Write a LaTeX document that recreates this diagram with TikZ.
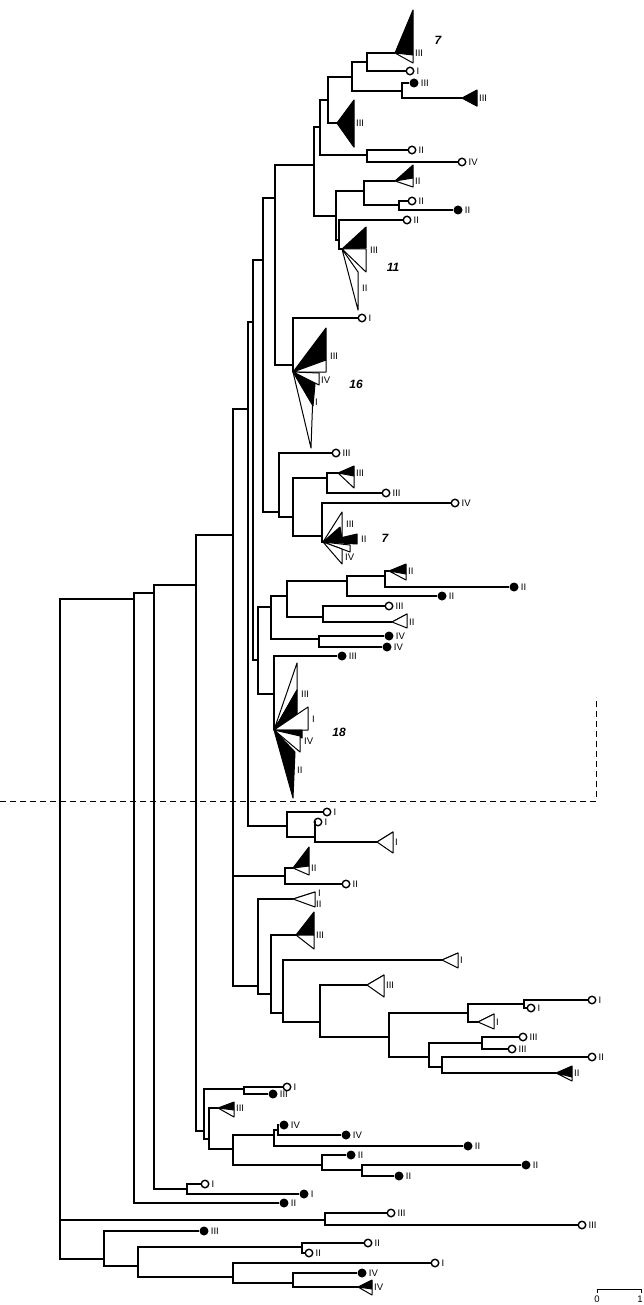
\documentclass[tikz,border=0pt]{standalone}
\usepackage{fontspec}
\setmainfont{Liberation Sans}
\tikzset{branch/.style={line width=1.6pt},
  tri/.style={draw,fill=black,line width=1pt,line join=round},
  opn/.style={circle,draw,fill=white,line width=1.4pt,inner sep=0pt,minimum size=7.5pt},
  fld/.style={circle,fill=black,inner sep=0pt,minimum size=9pt},
  lbl/.style={font=\fontsize{9.5}{9.5}\selectfont,inner sep=1pt},
  cnum/.style={font=\fontsize{12}{12}\selectfont\bfseries\itshape}}
% open and filled tips
\newcommand{\oleaf}[4]{\node[opn,label={[lbl]right:#4}] (#1) at (#2,#3) {};}
\newcommand{\fleaf}[4]{\node[fld,label={[lbl]right:#4}] (#1) at (#2,#3) {};}
% collapsed clade: name, apex x, apex y, right x, top, middle, bottom, label
\newcommand{\clade}[8]{%
  \coordinate (#1) at (#2,#3);
  \filldraw[tri] (#1) -- (#4,#5) -- (#4,#6) -- cycle;
  \filldraw[tri,fill=white] (#1) -- (#4,#6) -- (#4,#7) -- cycle;
  \node[lbl,anchor=west] (#1l) at (#4+1,#3) {#8};}

\begin{document}
\begin{tikzpicture}[x=1pt,y=-1pt,label distance=1pt]
  \useasboundingbox (0,0) rectangle (644,1305);
  % collapsed clades
  \clade{t1}{395}{53}{413}{10}{55}{63}{III}
  \clade{t2}{462}{98}{477}{90}{106}{106}{III}
  \clade{t3}{337}{123}{354}{100}{147}{147}{III}
  \clade{t4}{395}{181}{413}{165}{178}{187}{II}
  \clade{t5}{338}{473}{354}{466}{476}{488}{III}
  \clade{t6}{389}{571}{406}{564}{574}{580}{II}
  \clade{t7}{392}{622}{407}{614}{614}{628}{II}
  \clade{t8}{377}{842}{393}{832}{832}{853}{I}
  \clade{t9}{293}{868}{309}{847}{866}{875}{II}
  \clade{t10}{293}{899}{315}{892}{892}{907}{}
  \node[lbl,anchor=west] (t10a) at (317,893) {I};
  \node[lbl,anchor=west] (t10b) at (315,904) {II};
  \clade{t11}{296}{935}{314}{912}{935}{949}{III}
  \clade{t12}{442}{960}{458}{953}{953}{968}{I}
  \clade{t13}{367}{985}{384}{975}{975}{997}{III}
  \clade{t14}{478}{1022}{494}{1014}{1014}{1029}{I}
  \clade{t15}{556}{1073}{572}{1066}{1077}{1081}{II}
  \clade{t16}{218}{1108}{234}{1102}{1110}{1117}{III}
  \clade{t17}{358}{1287}{372}{1280}{1289}{1295}{IV}

  % fans
  \coordinate (a11) at (342,249);
  \filldraw[tri] (a11) -- (366,227) -- (366,248) -- cycle;
  \filldraw[tri,fill=white] (a11) -- (366,249) -- (366,272) -- cycle;
  \filldraw[tri,fill=white] (a11) -- (358,272) -- (358,310) -- cycle;
  \node[lbl,anchor=west] (a11a) at (369,250) {III};
  \node[lbl,anchor=west] (a11b) at (361,288) {II};
  \node[cnum] (num11) at (393,267) {11};

  \coordinate (a16) at (293,372);
  \filldraw[tri] (a16) -- (326,328) -- (326,360) -- cycle;
  \filldraw[tri,fill=white] (a16) -- (326,360) -- (326,372) -- cycle;
  \filldraw[tri,fill=white] (a16) -- (319,373) -- (319,385) -- cycle;
  \filldraw[tri,fill=white] (a16) -- (313,392) -- (311,448) -- cycle;
  \filldraw[tri] (a16) -- (315,384) -- (313,406) -- cycle;
  \node[lbl,anchor=west] (a16a) at (329,356) {III};
  \node[lbl,anchor=west] (a16b) at (320,380) {IV};
  \node[lbl,anchor=west] (a16c) at (314,402) {I};
  \node[cnum] (num16) at (356,384) {16};

  \coordinate (a7) at (323,542);
  \filldraw[tri,fill=white] (a7) -- (342,512) -- (342,538) -- cycle;
  \filldraw[tri] (a7) -- (340,527) -- (342,538) -- cycle;
  \filldraw[tri] (a7) -- (357,534) -- (357,544) -- cycle;
  \filldraw[tri,fill=white] (a7) -- (350,545) -- (350,552) -- cycle;
  \filldraw[tri,fill=white] (a7) -- (342,549) -- (342,564) -- cycle;
  \node[lbl,anchor=west] (a7a) at (345,524) {III};
  \node[lbl,anchor=west] (a7b) at (360,539) {II};
  \node[lbl,anchor=west] (a7c) at (344,557) {IV};
  \node[cnum] (num7b) at (385,538) {7};

  \coordinate (a18) at (274,730);
  \filldraw[tri,fill=white] (a18) -- (297,663) -- (297,690) -- cycle;
  \filldraw[tri] (a18) -- (297,690) -- (297,716) -- cycle;
  \filldraw[tri,fill=white] (a18) -- (308,707) -- (308,730) -- cycle;
  \filldraw[tri] (a18) -- (302,730) -- (302,738) -- cycle;
  \filldraw[tri,fill=white] (a18) -- (300,736) -- (300,752) -- cycle;
  \filldraw[tri] (a18) -- (295,752) -- (293,798) -- cycle;
  \node[lbl,anchor=west] (a18a) at (300,694) {III};
  \node[lbl,anchor=west] (a18b) at (311,719) {I};
  \node[lbl,anchor=west] (a18c) at (303,741) {IV};
  \node[lbl,anchor=west] (a18d) at (296,770) {II};
  \node[cnum] (num18) at (339,732) {18};

  \node[cnum] (num7a) at (438,40) {7};

  % tips
  \oleaf{o1}{410}{71}{I}
  \fleaf{f1}{414}{83}{III}
  \oleaf{o2}{412}{150}{II}
  \oleaf{o3}{462}{162}{IV}
  \oleaf{o4}{412}{201}{II}
  \fleaf{f2}{458}{210}{II}
  \oleaf{o5}{407}{220}{II}
  \oleaf{o6}{362}{318}{I}
  \oleaf{o7}{336}{453}{III}
  \oleaf{o8}{386}{493}{III}
  \oleaf{o9}{455}{503}{IV}
  \fleaf{f3}{514}{587}{II}
  \fleaf{f4}{442}{596}{II}
  \oleaf{o10}{389}{606}{III}
  \fleaf{f5}{389}{636}{IV}
  \fleaf{f6}{387}{647}{IV}
  \fleaf{f7}{342}{656}{III}
  \oleaf{o11}{327}{812}{I}
  \oleaf{o12}{318}{822}{I}
  \oleaf{o13}{346}{884}{II}
  \oleaf{o14}{592}{1000}{I}
  \oleaf{o15}{531}{1008}{I}
  \oleaf{o16}{523}{1037}{III}
  \oleaf{o17}{512}{1049}{III}
  \oleaf{o18}{592}{1057}{II}
  \oleaf{o19}{287}{1087}{I}
  \fleaf{f8}{273}{1094}{III}
  \fleaf{f9}{284}{1125}{IV}
  \fleaf{f10}{346}{1135}{IV}
  \fleaf{f11}{468}{1146}{II}
  \fleaf{f12}{351}{1155}{II}
  \fleaf{f13}{526}{1165}{II}
  \fleaf{f14}{399}{1176}{II}
  \oleaf{o20}{205}{1184}{I}
  \fleaf{f15}{304}{1194}{I}
  \fleaf{f16}{284}{1203}{II}
  \oleaf{o21}{391}{1213}{III}
  \oleaf{o22}{582}{1225}{III}
  \fleaf{f17}{204}{1231}{III}
  \oleaf{o23}{368}{1243}{II}
  \oleaf{o24}{309}{1253}{II}
  \oleaf{o25}{435}{1263}{I}
  \fleaf{f18}{362}{1273}{IV}

  % inner nodes
  \foreach \n/\x/\y in {r/60/1220, n134/134/599, n154/154/593, n196/196/585,
      n233/233/535, n248/248/409, n253/253/322, n263/263/260, n275/275/198,
      n314/314/165, n320/320/127, n328/328/100, n352/352/77, n367/367/62,
      n402/402/91, n367b/367/155, n336/336/216, n364/364/191, n399/399/205,
      n339/339/240, n293/293/365, n279/279/512, n293b/293/517, n327/327/478,
      n322/322/536, n258/258/660, n271/271/607, n287/287/596, n347/347/581,
      n385/385/576, n323/323/617, n319/319/639, n274/274/694, n287b/287/826,
      n315/315/837, n285/285/876, n258b/258/986, n271b/271/994, n283/283/1013,
      n320b/320/1022, n389/389/1037, n468/468/1013, n524/524/1004,
      n429/429/1057, n482/482/1043, n442/442/1067, n204/204/1131,
      n244/244/1089, n209/209/1139, n233b/233/1149, n274b/274/1135,
      n278/278/1130, n322b/322/1165, n362/362/1170, n187/187/1189,
      n325/325/1220, n104/104/1259, n138/138/1266, n302/302/1247,
      n233c/233/1277, n293c/293/1283}
    \coordinate (\n) at (\x,\y);

  % branches
  \foreach \p/\c in {r/n134, r/n325, r/n104, n134/n154, n134/f16,
      n154/n196, n154/n187, n187/o20, n187/f15, n196/n233, n196/n204,
      n233/n248, n233/n285, n233/n258b, n248/n253, n248/n287b,
      n253/n263, n253/n258, n263/n275, n263/n279, n275/n314, n275/n293,
      n314/n320, n314/n336, n320/n328, n320/n367b, n328/n352, n328/t3,
      n352/n367, n352/n402, n367/t1, n367/o1, n402/f1, n402/t2,
      n367b/o2, n367b/o3, n336/n364, n336/n339, n364/t4, n364/n399,
      n399/o4, n399/f2, n339/o5, n339/a11, n293/o6, n293/a16,
      n279/o7, n279/n293b, n293b/n327, n293b/n322, n327/t5, n327/o8,
      n322/o9, n322/a7, n258/n271, n258/n274, n271/n287, n271/n319,
      n287/n347, n287/n323, n347/n385, n347/f4, n385/t6, n385/f3,
      n323/o10, n323/t7, n319/f5, n319/f6, n274/f7, n274/a18,
      n287b/o11, n287b/n315, n315/o12, n315/t8, n285/t9, n285/o13,
      n258b/t10, n258b/n271b, n271b/t11, n271b/n283, n283/t12, n283/n320b,
      n320b/t13, n320b/n389, n389/n468, n389/n429, n468/n524, n468/t14,
      n524/o14, n524/o15, n429/n482, n429/n442, n482/o16, n482/o17,
      n442/o18, n442/t15, n204/n244, n204/n209, n244/o19, n244/f8,
      n209/t16, n209/n233b, n233b/n274b, n233b/n322b, n274b/n278,
      n274b/f11, n278/f9, n278/f10, n322b/f12, n322b/n362, n362/f13,
      n362/f14, n325/o21, n325/o22, n104/f17, n104/n138, n138/n302,
      n138/n233c, n302/o23, n302/o24, n233c/o25, n233c/n293c,
      n293c/f18, n293c/t17}
    \draw[branch] (\p) |- (\c);

  % cut line
  \coordinate (cutL) at (0,801);
  \coordinate (cutC) at (596,801);
  \coordinate (cutT) at (596,697);
  \draw[line width=0.9pt,dash pattern=on 6pt off 4pt] (cutL) -- (cutC) -- (cutT);

  % scale bar
  \coordinate (s0) at (597,1289);
  \coordinate (s1) at (641,1289);
  \draw[line width=1pt] ([yshift=-4pt]s0) -- (s0) -- (s1) -- ([yshift=-4pt]s1);
  \node[lbl] (s0l) at (597,1299) {0};
  \node[lbl] (s1l) at (640,1299) {1};
\end{tikzpicture}
\end{document}
